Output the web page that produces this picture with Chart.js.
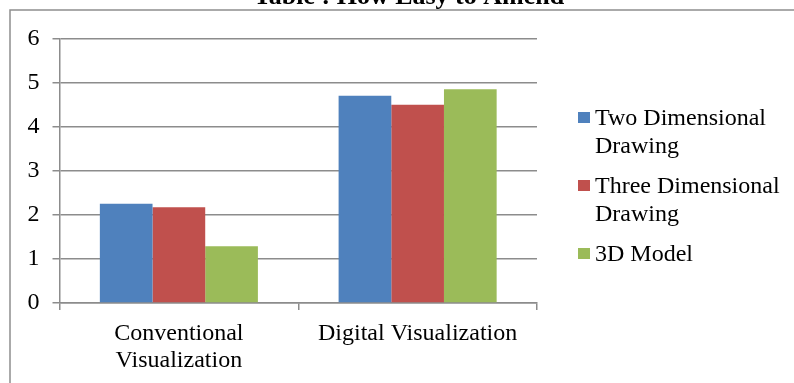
<!DOCTYPE html>
<html>
<head>
<meta charset="utf-8">
<style>
  html, body { margin: 0; padding: 0; background: #fff; }
  #wrap { width: 794px; height: 383px; overflow: hidden; }
</style>
<script src="https://cdn.jsdelivr.net/npm/chart.js"></script>
</head>
<body>
<div id="wrap"><canvas id="amendChart" width="794" height="383"></canvas></div>

<script>
// datos
const chartTitle = 'Table : How Easy to Amend';
const categories = [['Conventional', 'Visualization'], 'Digital Visualization'];
const seriesNames = ['Two Dimensional Drawing', 'Three Dimensional Drawing', '3D Model'];
const twoDimensional = [2.25, 4.7];
const threeDimensional = [2.17, 4.5];
const model3D = [1.29, 4.85];
const yTicks = [0, 1, 2, 3, 4, 5, 6];

const seriesColors = ['#4F81BD', '#C0504D', '#9BBB59'];
const FONT = "'Liberation Serif', 'Times New Roman', serif";
const GRID = '#8c8c8c';

// titulo, marco exterior y leyenda dibujados a mano
const decoPlugin = {
  id: 'deco',
  afterDraw(chart) {
    const ctx = chart.ctx;
    ctx.save();

    // marco
    ctx.strokeStyle = '#8e8e8e';
    ctx.lineWidth = 1.5;
    ctx.strokeRect(10, 10, 900, 900);

    // titulo (cortado arriba como en la imagen)
    ctx.fillStyle = '#000';
    ctx.font = 'bold 26px ' + FONT;
    ctx.textAlign = 'center';
    ctx.textBaseline = 'alphabetic';
    ctx.fillText(chartTitle, 409, 4);

    // leyenda
    ctx.font = '24px ' + FONT;
    ctx.textAlign = 'left';
    const maxW = 794 - 595 - 2;
    let y = 125;
    chart.data.datasets.forEach(ds => {
      const words = ds.label.split(' ');
      const lines = [];
      let cur = '';
      words.forEach(w => {
        const test = cur ? cur + ' ' + w : w;
        if (ctx.measureText(test).width > maxW && cur) {
          lines.push(cur);
          cur = w;
        } else {
          cur = test;
        }
      });
      lines.push(cur);

      ctx.fillStyle = ds.backgroundColor;
      ctx.fillRect(578, y - 13, 12, 11);
      ctx.fillStyle = '#000';
      lines.forEach((ln, i) => ctx.fillText(ln, 595, y + i * 28));
      y += lines.length * 28 + 12;
    });

    ctx.restore();
  }
};

const ctx = document.getElementById('amendChart').getContext('2d');

new Chart(ctx, {
  type: 'bar',
  data: {
    labels: categories,
    datasets: [
      { label: seriesNames[0], data: twoDimensional, backgroundColor: seriesColors[0] },
      { label: seriesNames[1], data: threeDimensional, backgroundColor: seriesColors[1] },
      { label: seriesNames[2], data: model3D, backgroundColor: seriesColors[2] }
    ]
  },
  options: {
    responsive: false,
    animation: false,
    devicePixelRatio: 1,
    layout: { padding: { top: 38.5, right: 257, bottom: 0, left: 0 } },
    datasets: {
      bar: { categoryPercentage: 0.662, barPercentage: 1, borderWidth: 0 }
    },
    plugins: {
      legend: { display: false },
      title: { display: false },
      tooltip: { enabled: false }
    },
    scales: {
      x: {
        grid: { drawOnChartArea: false, drawTicks: true, tickLength: 7, color: GRID, lineWidth: 1.5 },
        border: { display: true, color: GRID, width: 1.5 },
        ticks: {
          color: '#000',
          font: { family: FONT, size: 24, lineHeight: 1.12 },
          maxRotation: 0,
          autoSkip: false,
          padding: 10
        },
        afterFit(scale) { scale.height = 80; }
      },
      y: {
        min: yTicks[0],
        max: yTicks[yTicks.length - 1],
        afterBuildTicks(scale) { scale.ticks = yTicks.map(v => ({ value: v })); },
        grid: { color: GRID, lineWidth: 1.5, tickLength: 7 },
        border: { display: true, color: GRID, width: 1.5 },
        ticks: {
          color: '#000',
          font: { family: FONT, size: 24 },
          padding: 13
        },
        afterFit(scale) { scale.width = 59.5; }
      }
    }
  },
  plugins: [decoPlugin]
});
</script>
</body>
</html>
